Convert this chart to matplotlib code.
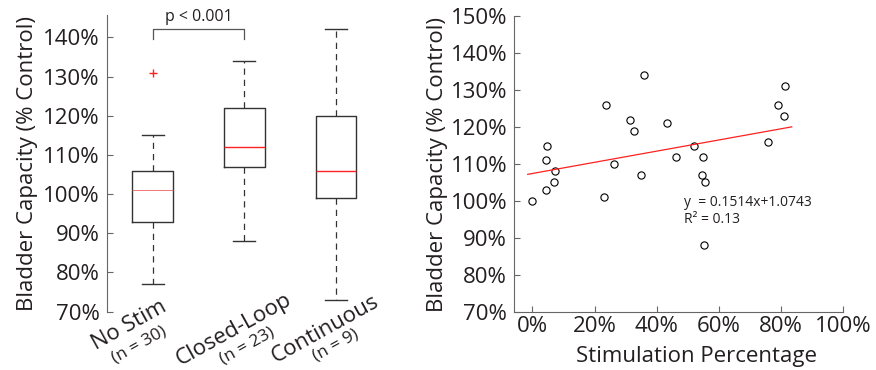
# -*- coding: utf-8 -*-
"""
Capacidade vesical: boxplot por grupo e dispersao vs. percentual de estimulacao.
"""

import matplotlib

matplotlib.use("Agg")
import matplotlib.pyplot as plt
import numpy as np
from matplotlib.ticker import PercentFormatter

plt.rcParams["font.family"] = ["Open Sans", "DejaVu Sans"]

################## Dados ##################

grupos = ["No Stim", "Closed-Loop", "Continuous"]
n_grupos = ["(n = 30)", "(n = 23)", "(n = 9)"]
q1 = [0.93, 1.07, 0.99]
mediana = [1.01, 1.12, 1.06]
q3 = [1.06, 1.22, 1.20]
whisker_low = [0.77, 0.88, 0.73]
whisker_high = [1.15, 1.34, 1.42]
outliers = [[1.31], [], []]

estim_pct = [0.00, 0.043, 0.047, 0.045, 0.071, 0.073, 0.230, 0.238, 0.264,
             0.313, 0.328, 0.358, 0.348, 0.434, 0.461, 0.520, 0.549, 0.546,
             0.555, 0.552, 0.757, 0.789, 0.809, 0.814]
capacidade = [1.00, 1.11, 1.15, 1.03, 1.05, 1.08, 1.01, 1.26, 1.10,
              1.22, 1.19, 1.34, 1.07, 1.21, 1.12, 1.15, 1.12, 1.07,
              1.05, 0.88, 1.16, 1.26, 1.23, 1.31]

coef_a = 0.1514
coef_b = 1.0743
r2 = 0.13
fit_range = [-0.015, 0.834]

################## Figura ##################

cor_eixo = "#666666"
cor_texto = "#231f20"

fig = plt.figure(figsize=(8.76, 3.70), dpi=100)
ax1 = fig.add_axes([0.1218, 0.1576, 0.3142, 0.8019])
ax2 = fig.add_axes([0.5868, 0.1576, 0.3759, 0.7983])

# Boxplot
stats = []
for i in range(len(grupos)):
    stats.append({
        "med": mediana[i], "q1": q1[i], "q3": q3[i],
        "whislo": whisker_low[i], "whishi": whisker_high[i],
        "fliers": outliers[i], "label": grupos[i],
    })

bp = ax1.bxp(
    stats, positions=[1, 2, 3], widths=0.44, showfliers=True,
    boxprops=dict(color="#333333", linewidth=1.0),
    whiskerprops=dict(color="#333333", linewidth=0.9, linestyle=(0, (5, 4))),
    capprops=dict(color="#333333", linewidth=1.0),
    medianprops=dict(color="#ff2020", linewidth=1.0),
    flierprops=dict(marker="+", markeredgecolor="#ff2020", markersize=6, linestyle="none"),
    capwidths=0.24,
)
bp["medians"][0].set_linewidth(0.6)
bp["medians"][0].set_color("#f06060")

ax1.set_xlim(0.5, 3.5)
ax1.set_ylim(0.70, 1.457)
ax1.set_yticks(np.arange(0.70, 1.41, 0.10))
ax1.yaxis.set_major_formatter(PercentFormatter(1.0, decimals=0))
ax1.set_xticks([])
for s in ["top", "right", "bottom"]:
    ax1.spines[s].set_visible(False)
ax1.spines["left"].set_color(cor_eixo)
ax1.tick_params(axis="y", direction="in", length=4, color=cor_eixo,
                labelsize=16, labelcolor=cor_texto, pad=5)
ax1.set_ylabel("Bladder Capacity (% Control)", fontsize=16, color=cor_texto, labelpad=4)

# rotulos rotacionados em duas linhas
off_main = [(-23, -14), (-10, -18), (-11, -18)]
off_sub = [(-13, -33), (3, -34), (0, -34)]
for i in range(len(grupos)):
    ax1.annotate(grupos[i], xy=(i + 1, 0), xycoords=("data", "axes fraction"),
                 xytext=off_main[i], textcoords="offset pixels",
                 rotation=29, rotation_mode="anchor", ha="center", va="center",
                 fontsize=16, color=cor_texto, annotation_clip=False)
    ax1.annotate(n_grupos[i], xy=(i + 1, 0), xycoords=("data", "axes fraction"),
                 xytext=off_sub[i], textcoords="offset pixels",
                 rotation=29, rotation_mode="anchor", ha="center", va="center",
                 fontsize=12.5, color=cor_texto, annotation_clip=False)

# barra de significancia
ax1.plot([1, 1, 2, 2], [1.395, 1.421, 1.421, 1.395], color="#555555",
         linewidth=0.9, clip_on=False)
ax1.text(1.5, 1.452, "p < 0.001", ha="center", va="center", fontsize=11.5,
         color=cor_texto, clip_on=False)

# Dispersao
ax2.plot(estim_pct, capacidade, linestyle="none", marker="o", markersize=5.2,
         markerfacecolor="none", markeredgecolor="black", markeredgewidth=0.8)
xf = np.array(fit_range)
ax2.plot(xf, coef_a * xf + coef_b, color="#ff2020", linewidth=0.9)
ax2.text(0.489, 0.995, f"y  = {coef_a}x+{coef_b}", ha="left", va="center",
         fontsize=10, color=cor_texto)
ax2.text(0.489, 0.949, f"R\u00b2 = {r2}", ha="left", va="center",
         fontsize=10, color=cor_texto)

ax2.set_xlim(-0.059, 1.0)
ax2.set_ylim(0.70, 1.50)
ax2.set_xticks(np.arange(0, 1.01, 0.2))
ax2.set_yticks(np.arange(0.70, 1.51, 0.10))
ax2.xaxis.set_major_formatter(PercentFormatter(1.0, decimals=0))
ax2.yaxis.set_major_formatter(PercentFormatter(1.0, decimals=0))
for s in ["top", "right"]:
    ax2.spines[s].set_visible(False)
for s in ["left", "bottom"]:
    ax2.spines[s].set_color(cor_eixo)
ax2.tick_params(direction="in", length=4, color=cor_eixo, labelsize=16,
                labelcolor=cor_texto)
ax2.tick_params(axis="y", pad=5)
ax2.tick_params(axis="x", pad=3)
ax2.set_ylabel("Bladder Capacity (% Control)", fontsize=16, color=cor_texto, labelpad=2)
ax2.set_xlabel("Stimulation Percentage", fontsize=16, color=cor_texto)
ax2.xaxis.set_label_coords(0.555, -0.115, transform=ax2.transAxes)
ax2.xaxis.label.set_va("top")

fig.savefig("out.png", dpi=100)
plt.close(fig)
